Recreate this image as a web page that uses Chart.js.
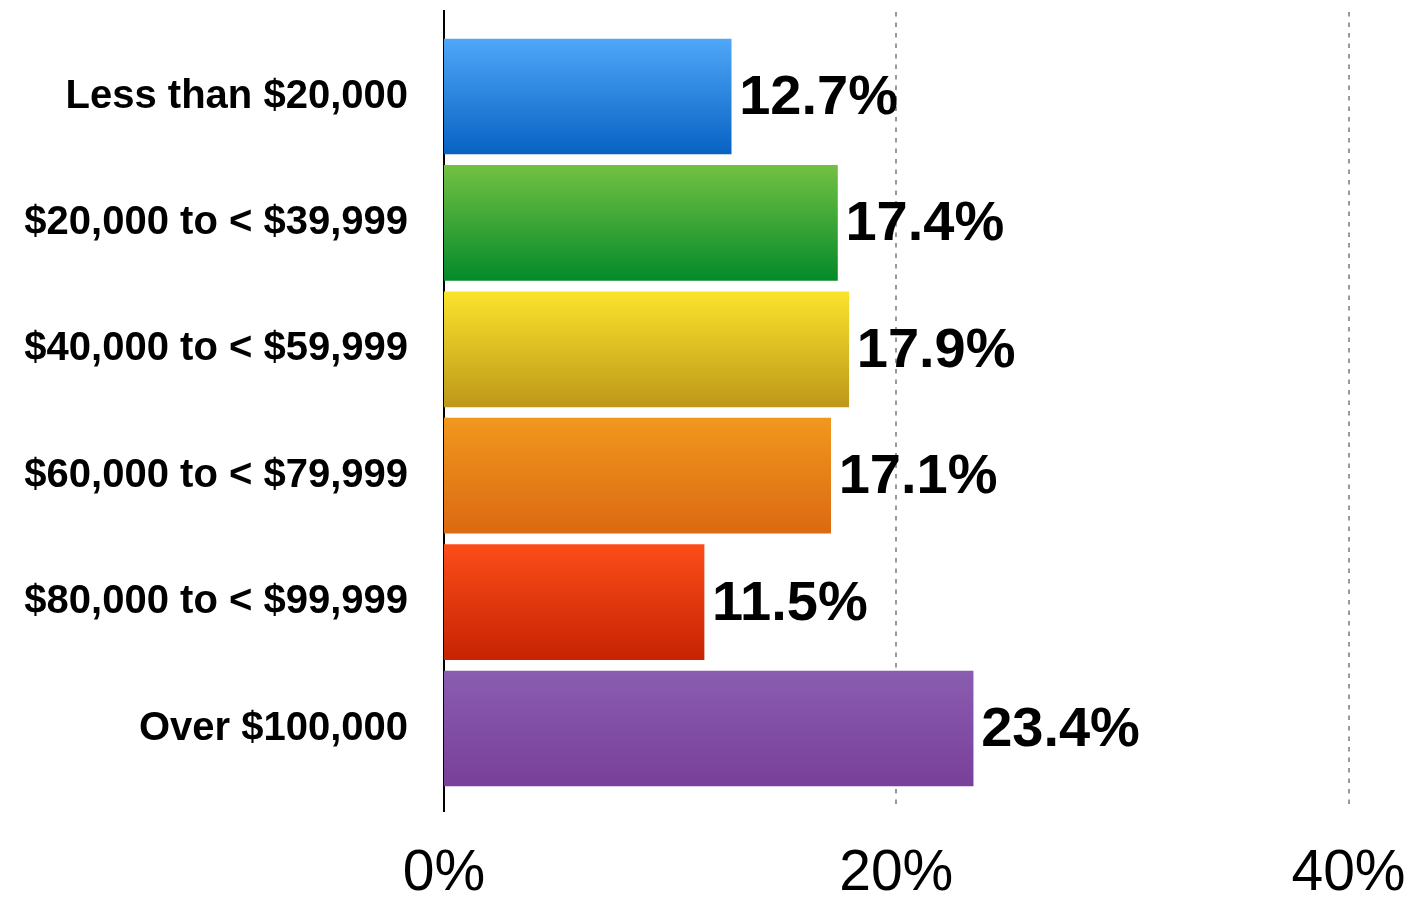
<!DOCTYPE html>
<html>
<head>
<meta charset="utf-8">
<script src="https://cdn.jsdelivr.net/npm/chart.js@4"></script>
<style>
  html, body { margin: 0; padding: 0; background: #ffffff; }
  canvas { display: block; }
</style>
</head>
<body>
<canvas id="c" width="1414" height="899"></canvas>
<script>
const categories = [
  "Less than $20,000",
  "$20,000 to < $39,999",
  "$40,000 to < $59,999",
  "$60,000 to < $79,999",
  "$80,000 to < $99,999",
  "Over $100,000"
];
const shares = [12.7, 17.4, 17.9, 17.1, 11.5, 23.4];
const xTickValues = [0, 20, 40];
const topColors = ["#50a7f8", "#73c143", "#fbe32c", "#f0981d", "#fc4d19", "#8a5db1"];
const bottomColors = ["#0762c3", "#048a2a", "#bd9819", "#dc6912", "#c72302", "#793f99"];

const FONT = "'Liberation Sans', Arial, Helvetica, sans-serif";
const BAR_THICK = 115;

function barGradient(ctx) {
  const chart = ctx.chart;
  const i = ctx.dataIndex;
  if (!chart.chartArea || !chart.scales.y) return topColors[i];
  const yc = chart.scales.y.getPixelForValue(i);
  const g = chart.ctx.createLinearGradient(0, yc - BAR_THICK / 2, 0, yc + BAR_THICK / 2);
  g.addColorStop(0, topColors[i]);
  g.addColorStop(1, bottomColors[i]);
  return g;
}

function zeroPad(scale) {
  scale.paddingLeft = 0;
  scale.paddingRight = 0;
  scale.paddingTop = 0;
  scale.paddingBottom = 0;
}

const gridPlugin = {
  id: 'customGrid',
  beforeDatasetsDraw(chart) {
    const c = chart.ctx;
    const x = chart.scales.x;
    c.save();
    c.strokeStyle = '#999999';
    c.lineWidth = 2;
    c.setLineDash([4.5, 6]);
    xTickValues.forEach(v => {
      if (v === 0) return;
      const px = Math.round(x.getPixelForValue(v));
      c.beginPath();
      c.moveTo(px, 12);
      c.lineTo(px, 808);
      c.stroke();
    });
    c.setLineDash([]);
    c.strokeStyle = '#000000';
    c.lineWidth = 2;
    const x0 = Math.round(x.getPixelForValue(0));
    c.beginPath();
    c.moveTo(x0, 10);
    c.lineTo(x0, 812);
    c.stroke();
    c.restore();
  }
};

const labelPlugin = {
  id: 'valueLabels',
  afterDatasetsDraw(chart) {
    const c = chart.ctx;
    const meta = chart.getDatasetMeta(0);
    c.save();
    c.font = "bold 56px " + FONT;
    c.fillStyle = '#000000';
    c.textAlign = 'left';
    c.textBaseline = 'middle';
    meta.data.forEach((bar, i) => {
      c.fillText(shares[i].toFixed(1) + '%', bar.x + 8, bar.y + 2);
    });
    c.restore();
  }
};

new Chart(document.getElementById('c'), {
  type: 'bar',
  data: {
    labels: categories,
    datasets: [{
      data: shares,
      backgroundColor: barGradient,
      borderWidth: 0,
      barThickness: BAR_THICK
    }]
  },
  options: {
    indexAxis: 'y',
    responsive: false,
    animation: false,
    devicePixelRatio: 1,
    layout: { padding: { left: 0, right: 65.5, top: 33.3, bottom: 0 } },
    plugins: { legend: { display: false }, tooltip: { enabled: false } },
    scales: {
      x: {
        type: 'linear',
        min: 0,
        max: 40,
        afterBuildTicks(scale) { scale.ticks = xTickValues.map(v => ({ value: v })); },
        afterFit(scale) { scale.height = 899 - 791.7; zeroPad(scale); },
        grid: { display: false, drawTicks: false },
        border: { display: false },
        ticks: {
          padding: 48,
          color: '#000000',
          font: { family: FONT, size: 57, weight: 'normal' },
          maxRotation: 0,
          callback: v => v + '%'
        }
      },
      y: {
        afterFit(scale) { scale.width = 444; zeroPad(scale); },
        grid: { display: false, drawTicks: false },
        border: { display: false },
        ticks: {
          padding: 36,
          color: '#000000',
          font: { family: FONT, size: 40, weight: 'bold' }
        }
      }
    }
  },
  plugins: [gridPlugin, labelPlugin]
});
</script>
</body>
</html>
